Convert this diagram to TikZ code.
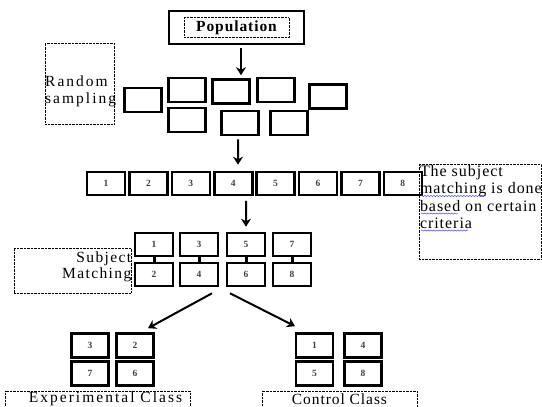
\documentclass[tikz,border=0pt]{standalone}
\usepackage{fontspec}
\setmainfont{Liberation Serif}
\newfontfamily\widefont[LetterSpace=6]{Liberation Serif}
\newfontfamily\midfont[LetterSpace=9]{Liberation Serif}
\newfontfamily\widerfont[LetterSpace=13]{Liberation Serif}
\usetikzlibrary{positioning, arrows.meta, decorations.pathmorphing}

\begin{document}
\begin{tikzpicture}[x=1pt, y=-1pt, font=\widefont\fontsize{16}{17.5}\selectfont,
    unit/.style={draw, line width=2.6pt, minimum width=38pt, minimum height=23pt, inner sep=0pt, font=\fontsize{9.5}{9.5}\selectfont\bfseries\color{black!75}},
    blank/.style={draw, line width=2.6pt, minimum width=37pt, minimum height=24pt, inner sep=0pt, font=\fontsize{9.5}{9.5}\selectfont\bfseries\color{black!75}},
    note/.style={draw, densely dotted, thin, inner sep=0pt},
    arr/.style={line width=2pt, -{Stealth[length=8pt, width=10pt]}},
    spell/.style={blue!80, thin, decorate, decoration={snake, amplitude=0.6pt, segment length=3pt}}]
    \useasboundingbox (0,0) rectangle (542,407);

    % population
    \node[draw, line width=2.4pt, minimum width=135pt, minimum height=33pt] (pop) at (236.5,27.5) {};
    \node[note, minimum width=105pt, minimum height=20pt, font=\widefont\fontsize{15.5}{15.5}\selectfont\bfseries] (poptext) at (pop) {Population};

    % random sampling
    \node[note, minimum width=69pt, minimum height=81pt] (rsbox) at (79.5,83.5) {};
    \node[anchor=north west, align=left, inner sep=0pt, font=\widerfont\fontsize{15.5}{17}\selectfont] (rstext) at (45,75.5) {Random\\sampling};

    \node[blank] (s1) at (143,100) {};
    \node[blank] (s2) at (187,90) {};
    \node[blank] (s3) at (231,91.5) {};
    \node[blank] (s4) at (276,90) {};
    \node[blank] (s5) at (328,96.5) {};
    \node[blank] (s6) at (187,120) {};
    \node[blank] (s7) at (240,123) {};
    \node[blank] (s8) at (289,123) {};
    \draw[arr] ([xshift=4.5pt, yshift=-3pt]pop.south) -- ([xshift=10pt, yshift=3pt]s3.north);

    % numbered subjects
    \foreach \i in {1,...,8}
        \node[unit] (n\i) at ({106+42.4*(\i-1)},183.5) {\i};
    \draw[arr] ([xshift=-2pt, yshift=-3pt]s7.south) -- ([xshift=4.8pt, yshift=6pt]n4.north);

    % criteria note
    \node[note, minimum width=122pt, minimum height=95pt] (crit) at (480,211.5) {};
    \node[anchor=north west, align=left, inner sep=0pt] (crittext) at ([xshift=1pt, yshift=-1pt]crit.north west) {The subject\\matching is done\\based on certain\\criteria};
    \draw[spell] (421,196) -- (486,196);
    \draw[spell] (421,213.5) -- (458,213.5);
    \draw[spell] (421,230.5) -- (468,230.5);

    % subject matching
    \node[note, minimum width=117pt, minimum height=45pt] (smbox) at (72.5,270.5) {};
    \node[anchor=north east, align=right, inner sep=0pt, font=\midfont\fontsize{15.5}{16}\selectfont] (smtext) at (131.5,251.5) {Subject\\Matching};
    \foreach \x/\t/\b [count=\k] in {154/1/2, 199/3/4, 246/5/6, 292/7/8} {
        \node[unit] (mt\k) at (\x,244.5) {\t};
        \node[unit] (mb\k) at (\x,274.5) {\b};
        \draw[line width=3pt] (mt\k) -- (mb\k);
    }
    \draw[arr] ([xshift=12.8pt, yshift=-4.5pt]n4.south) -- ([yshift=5pt]mt3.north);

    % experimental class
    \node[blank] (e1) at (90,345.5) {3};
    \node[blank] (e2) at (135,345.5) {2};
    \node[blank] (e3) at (90,373.5) {7};
    \node[blank] (e4) at (135,373.5) {6};
    \node[note, minimum width=185pt, minimum height=16pt, font=\widerfont\fontsize{15.5}{15.5}\selectfont] (expclass) at (97.5,399) {\hspace*{16pt}Experimental Class};

    % control class
    \node[blank] (c1) at (314.5,345.5) {1};
    \node[blank] (c2) at (363,345.5) {4};
    \node[blank] (c3) at (314.5,373.5) {5};
    \node[blank] (c4) at (363,373.5) {8};
    \node[note, minimum width=155pt, minimum height=16pt, font=\widefont\fontsize{15.5}{15.5}\selectfont] (ctrlclass) at (339.5,399) {Control Class};

    \draw[arr] ([xshift=13pt, yshift=-6pt]mb2.south) -- ([xshift=13pt, yshift=4pt]e2.north);
    \draw[arr] ([xshift=-16pt, yshift=-6pt]mb3.south) -- ([xshift=-19.5pt, yshift=6pt]c1.north);
\end{tikzpicture}
\end{document}
